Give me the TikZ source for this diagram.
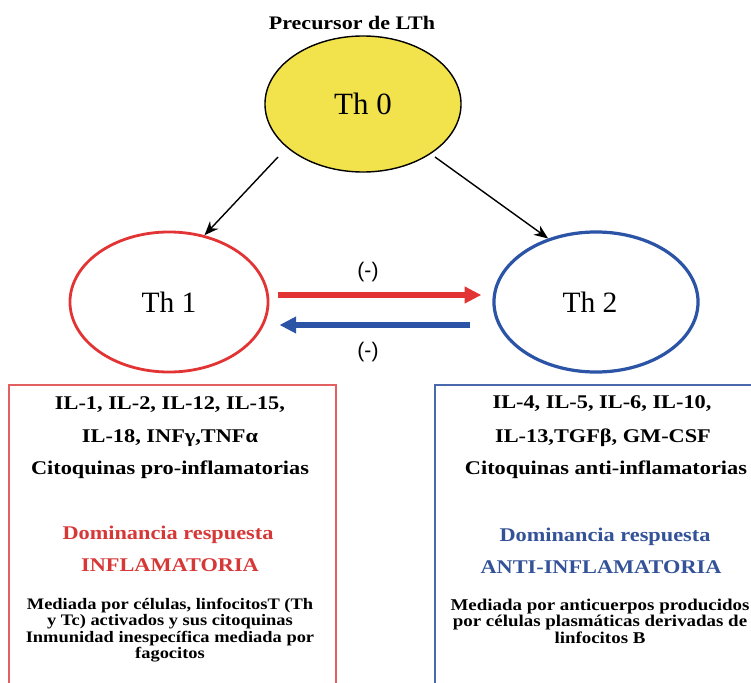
\documentclass[tikz,border=0pt]{standalone}
\usepackage{fontspec}
\setmainfont{Liberation Serif}
\newfontfamily\boxfont{Liberation Serif}[FakeStretch=1.15]
\newfontfamily\signfont{Liberation Sans}
\usetikzlibrary{shapes.geometric,arrows.meta}

\definecolor{thyellow}{RGB}{242,226,76}
\definecolor{thred}{RGB}{226,52,52}
\definecolor{thblue}{RGB}{44,84,166}
\definecolor{redtext}{RGB}{214,56,56}
\definecolor{bluetext}{RGB}{52,82,152}
\definecolor{redframe}{RGB}{226,96,96}
\definecolor{blueframe}{RGB}{74,104,172}

\tikzset{
    cell/.style={ellipse, inner sep=0pt, minimum height=3.5cm, font=\fontsize{21}{25}\selectfont},
    biglabel/.style={font=\boxfont\bfseries\fontsize{13.8}{16}\selectfont},
    smalllabel/.style={align=center, font=\boxfont\bfseries\fontsize{11.4}{11.7}\selectfont},
    pil/.style={-{Stealth[length=10pt,width=8pt]}, line width=1pt},
    fatpil/.style={-{Triangle[length=0.42cm,width=0.4cm]}, line width=4.3pt}
}

\begin{document}
\begin{tikzpicture}[x=0.025cm, y=-0.025cm]
        \useasboundingbox (0,0) rectangle (751,683);
        \clip (0,0) rectangle (751,683);

        % the three cells
        \node[cell, minimum width=4.9cm, minimum height=3.4cm, fill=thyellow, draw=black, line width=1pt,
              font=\fontsize{22}{26}\selectfont] (th0) at (363,104) {Th 0};
        \node[cell, minimum width=4.95cm, draw=thred, line width=2pt] (th1) at (169,302) {Th 1};
        \node[cell, minimum width=5.1cm, draw=thblue, line width=2.3pt] (th2) at (596,302) {\hspace*{-0.3cm}Th 2};
        \node[font=\boxfont\bfseries\fontsize{13.6}{16}\selectfont] (prec) at (352,23) {Precursor de LTh};

        \coordinate (s1) at (278,157);
        \coordinate (s2) at (435,157);
        \draw[pil] (s1) -- (th1.62);
        \draw[pil] (s2) -- (th2.127);

        % mutual inhibition
        \draw[fatpil, thred] ([xshift=0.225cm,yshift=0.175cm]th1.east) -- ([xshift=-0.275cm,yshift=0.175cm]th2.west);
        \draw[fatpil, thblue] ([xshift=-0.55cm,yshift=-0.575cm]th2.west) -- ([xshift=0.25cm,yshift=-0.575cm]th1.east);
        \node[font=\signfont\fontsize{15}{17}\selectfont] (m1) at (368,272) {(-)};
        \node[font=\signfont\fontsize{15}{17}\selectfont] (m2) at (368,352) {(-)};

        % boxes
        \draw[redframe, line width=0.8pt] (9,385) rectangle (336,700);
        \draw[blueframe, line width=1.1pt] (435,385) rectangle (760,700);

        \node[biglabel] (l1) at (170,405) {IL-1, IL-2, IL-12, IL-15,};
        \node[biglabel] (l2) at (170,438) {IL-18, INFγ,TNFα};
        \node[biglabel] (l3) at (170,470) {Citoquinas pro-inflamatorias};
        \node[biglabel, text=redtext] (l4) at (168,535) {Dominancia respuesta};
        \node[biglabel, text=redtext] (l5) at (170,565) {INFLAMATORIA};
        \node[smalllabel] (l6) at (170,630) {Mediada por células, linfocitosT (Th\\y Tc) activados y sus citoquinas\\Inmunidad inespecífica mediada por\\fagocitos};

        \node[biglabel] (r1) at (602,404) {IL-4, IL-5, IL-6, IL-10,};
        \node[biglabel] (r2) at (603,438) {IL-13,TGFβ, GM-CSF};
        \node[biglabel] (r3) at (606,470) {Citoquinas anti-inflamatorias};
        \node[biglabel, text=bluetext] (r4) at (605,537) {Dominancia respuesta};
        \node[biglabel, text=bluetext] (r5) at (601,567) {ANTI-INFLAMATORIA};
        \node[smalllabel, font=\boxfont\bfseries\fontsize{11.7}{11.7}\selectfont] (r6) at (600,621) {Mediada por anticuerpos producidos\\por células plasmáticas derivadas de\\linfocitos B};
    \end{tikzpicture}
\end{document}
